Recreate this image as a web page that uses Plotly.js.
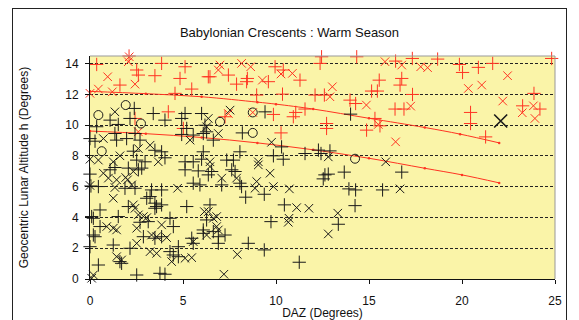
<!DOCTYPE html>
<html>
<head>
<meta charset="utf-8">
<script src="https://cdn.plot.ly/plotly-3.0.1.min.js"></script>
<style>
html,body{margin:0;padding:0;background:#fff;}
#wrap{position:relative;width:579px;height:320px;overflow:hidden;}
#chart{width:579px;height:320px;}
#frame{position:absolute;left:12px;top:8px;width:555px;height:340px;border:1px solid #222;pointer-events:none;box-sizing:border-box;}
</style>
</head>
<body>
<div id="wrap"><div id="chart"></div><div id="frame"></div></div>
<script>
// ---- data ----
const xTicks = [0, 5, 10, 15, 20, 25];
const yTicks = [0, 2, 4, 6, 8, 10, 12, 14];

const upperCurveX = [0, 3, 6, 9, 10, 12, 15, 18, 19.9, 22];
const upperCurveY = [12.2, 12.05, 11.85, 11.5, 11.37, 11.05, 10.45, 9.85, 9.42, 8.85];
const lowerCurveX = [0, 3, 6, 9, 12, 15, 18, 20, 22];
const lowerCurveY = [9.62, 9.45, 9.2, 8.85, 8.4, 7.85, 7.2, 6.77, 6.25];

const redPlusX = [0.36,2.51,2.6,3.49,3.85,1.61,4.57,5.11,4.84,5.47,6.36,4.21,5.02,2.42,6.45,7.44,7.88,8.46,8.42,9.59,9.95,10.39,11.29,12.45,12.37,8.96,10.35,12.1,12.6,7.26,9.86,11.06,10.93,11.56,10.27,12.72,12.72,14.34,16.43,17.33,18.69,19.86,20.03,20.88,21.65,24.82,15.55,16.76,16.67,15.14,15.45,17.34,13.98,14.28,16.4,16.88,20.46,20.46,23.87,23.26,24.19,14.87,15.59,15.32,21.27,2.1];
const redPlusY = [13.95,13.59,13.26,13.22,14.02,12.61,12.07,13.8,13.04,12.35,13.15,10.87,9.79,10.44,13.15,13.26,12.67,13.04,12.83,12.83,13.8,13.59,12.93,14.45,14.02,11.96,12.02,11.96,11.96,10.55,10.7,10.83,10.55,11.05,9.5,10.11,9.79,14.45,14.17,14.34,14.3,13.95,13.43,13.76,14.02,14.34,12.93,13.04,12.61,12.22,12.22,12.0,11.63,11.41,11.05,11.05,10.83,10.11,12.07,11.26,11.05,9.68,9.96,10.44,9.24,14.5];

const redCrossX = [2.11,2.06,2.42,0.95,0.45,0.0,1.2,2.6,6.9,6.99,8.15,8.64,9.27,10.27,10.88,7.44,8.75,15.86,16.76,17.78,18.15,22.45,13.03,12.9,20.34,21.06,14.86,17.24,22.19,23.24,23.84,23.92,15.5,16.43];
const redCrossY = [14.45,14.13,12.67,13.15,12.35,12.07,12.17,9.57,13.59,13.91,14.02,13.8,12.93,13.33,13.37,10.76,10.83,14.13,13.91,13.8,13.74,13.22,12.5,11.85,12.39,12.61,11.31,11.24,11.57,10.81,11.26,10.44,10.05,8.92];

const blackCircleX = [0.45,1.92,2.74,0.63,6.99,8.75,8.75,14.25];
const blackCircleY = [10.66,11.31,10.11,8.31,10.22,10.83,9.5,7.82];

const blackPlusX = [14.01,12.9,12.81,13.67,16.76,13.92,14.28,15.73,14.25,13.35,9.41,6.27,6.63,8.19,10.3,8.06,9.86,10.39,11.56,12.28,12.42,7.35,7.71,2.38,1.08,1.52,2.15,3.4,4.03,5.11,4.93,6.0,0.36,0.0,0.27,1.34,1.43,1.97,2.42,2.69,2.33,3.49,3.85,4.03,4.93,5.2,5.55,6.09,6.18,6.09,2.51,2.96,5.11,5.55,6.0,0.0,0.05,1.08,1.34,0.45,2.06,2.6,2.78,1.88,2.42,3.31,3.85,3.23,3.05,3.58,3.49,3.85,0.54,2.06,1.52,0.09,0.18,2.69,3.13,4.3,4.48,0.54,0.18,0.27,2.87,3.49,3.85,5.47,5.55,6.09,1.25,2.15,0.0,4.75,4.3,4.48,4.75,1.61,1.7,0.45,2.51,3.76,4.03,3.49,5.11,5.82,5.55,5.91,5.2,6.09,6.36,6.54,7.08,7.62,7.8,8.06,8.15,9.37,8.37,12.54,12.63,10.45,9.73,6.45,6.27,6.63,7.26,6.9,6.9,8.51,9.37,11.25];
const blackPlusY = [10.72,8.33,6.82,6.95,6.95,5.86,5.79,5.79,4.77,3.56,10.87,9.57,9.03,9.5,8.59,8.27,8.01,7.79,8.16,8.38,8.16,7.73,7.73,11.09,10.33,10.05,10.44,10.76,10.33,10.76,10.44,10.76,9.9,9.13,8.96,9.46,9.03,9.13,9.46,9.03,8.31,8.37,8.27,7.88,9.4,9.79,9.36,9.46,10.0,8.27,7.73,7.62,7.62,7.62,7.79,6.82,6.05,7.1,7.25,6.01,7.21,7.1,7.21,5.9,5.9,5.79,5.79,5.36,5.25,4.71,4.6,4.82,4.49,4.71,4.06,4.06,3.95,3.69,3.73,3.95,3.41,3.41,2.86,2.75,2.75,2.65,2.75,2.65,2.32,2.97,2.21,2.0,2.1,2.1,1.78,1.56,1.45,1.13,1.02,0.91,0.26,0.37,0.31,4.93,7.1,7.03,6.23,6.12,4.71,3.19,6.77,6.99,6.12,7.1,6.99,6.23,6.01,5.51,5.32,6.51,6.77,4.82,3.73,4.82,3.84,3.08,2.86,2.75,2.32,2.32,1.89,1.09];

const blackCrossX = [12.81,15.9,16.67,13.32,12.81,7.53,6.36,6.27,6.9,9.76,6.45,9.05,1.34,0.72,2.6,3.23,3.67,5.38,0.0,0.45,1.61,1.25,0.0,0.72,0.99,1.43,1.92,2.02,1.34,2.24,1.25,2.33,2.42,2.6,2.87,3.05,3.85,0.9,1.25,1.43,2.51,3.31,3.58,4.12,2.51,3.23,3.58,5.11,5.47,4.39,1.43,1.7,0.18,0.09,2.33,4.71,6.15,5.55,6.45,7.08,7.88,9.05,9.68,8.96,8.87,9.86,10.72,11.11,11.77,10.7,10.66,6.36,6.63,6.81,6.81,6.9,6.27,7.92,7.2];
const blackCrossY = [7.94,7.62,5.86,4.28,2.93,10.98,10.44,9.9,9.46,8.89,7.62,7.62,10.87,9.13,8.48,8.7,7.62,9.03,7.79,7.73,8.01,7.62,6.08,6.88,6.56,6.45,6.6,6.45,5.95,6.12,5.25,4.82,4.6,4.17,4.06,3.99,3.52,3.41,3.3,3.19,3.3,2.86,2.75,2.69,2.32,1.78,1.67,1.35,1.39,1.13,1.45,1.24,0.26,0.05,6.99,5.9,4.38,2.43,7.31,6.56,6.56,7.42,6.88,6.34,5.9,6.01,5.86,4.64,4.6,3.95,3.69,4.38,3.95,4.06,3.41,3.19,2.86,1.6,0.31];

const bigCrossX = [22.08];
const bigCrossY = [10.27];

// ---- chart ----
const RED = '#ff3322';
const BLK = '#1a1a1a';
function sc(x, y, sym, color, size, w) {
  return {x: x, y: y, type: 'scatter', mode: 'markers', cliponaxis: false, hoverinfo: 'skip',
    marker: {symbol: sym, size: size, color: color, line: {color: color, width: w}}};
}
const traces = [
  {x: upperCurveX, y: upperCurveY, type: 'scatter', mode: 'lines+markers', line: {color: RED, width: 1, shape: 'spline'}, marker: {size: 2.5, color: RED}, hoverinfo: 'skip'},
  {x: lowerCurveX, y: lowerCurveY, type: 'scatter', mode: 'lines+markers', line: {color: RED, width: 1, shape: 'spline'}, marker: {size: 2.5, color: RED}, hoverinfo: 'skip'},
  sc(redPlusX, redPlusY, 'cross-thin', RED, 9.5, 1),
  sc(redCrossX, redCrossY, 'x-thin', RED, 8.5, 1),
  sc(blackPlusX, blackPlusY, 'cross-thin', BLK, 9.5, 1),
  sc(blackCrossX, blackCrossY, 'x-thin', BLK, 8.5, 1),
  sc(blackCircleX, blackCircleY, 'circle-open', BLK, 9, 1),
  sc(bigCrossX, bigCrossY, 'x-thin', BLK, 13, 1.6)
];
const layout = {
  width: 579, height: 320,
  margin: {l: 90, r: 24, t: 56, b: 41},
  paper_bgcolor: '#ffffff',
  plot_bgcolor: '#faf4a8',
  showlegend: false,
  font: {family: 'Liberation Sans, Arial, sans-serif', size: 12, color: '#111'},
  title: {text: 'Babylonian Crescents : Warm Season', x: 0.5, xanchor: 'center', y: 0.9, yanchor: 'middle', yref: 'container', font: {size: 13, color: '#111'}},
  xaxis: {range: [0, 25], tickvals: xTicks, ticktext: xTicks.map(String), ticks: 'outside', ticklen: 4, tickcolor: '#111',
    ticklabelstandoff: 7,
    showgrid: false, zeroline: false, showline: true, linecolor: '#111', linewidth: 1,
    title: {text: 'DAZ (Degrees)', standoff: 0, font: {size: 12}}, fixedrange: true},
  yaxis: {range: [0, 14.5], tickvals: yTicks, ticktext: yTicks.map(String), ticks: 'outside', ticklen: 4, tickcolor: '#111',
    ticklabelstandoff: 4,
    showgrid: true, gridcolor: '#222', gridwidth: 1, griddash: '3px,2px', zeroline: false, showline: true, linecolor: '#111', linewidth: 1,
    title: {text: 'Geocentric Lunar Altitude h (Degrees)', standoff: 34, font: {size: 12}}, fixedrange: true},
  shapes: [
    {type: 'line', xref: 'paper', yref: 'paper', x0: 0, x1: 1, y0: 1, y1: 1, line: {color: '#999', width: 1}},
    {type: 'line', xref: 'paper', yref: 'paper', x0: 1, x1: 1, y0: 0, y1: 1, line: {color: '#999', width: 1}}
  ]
};
Plotly.newPlot('chart', traces, layout, {staticPlot: true, displayModeBar: false});
</script>
</body>
</html>
